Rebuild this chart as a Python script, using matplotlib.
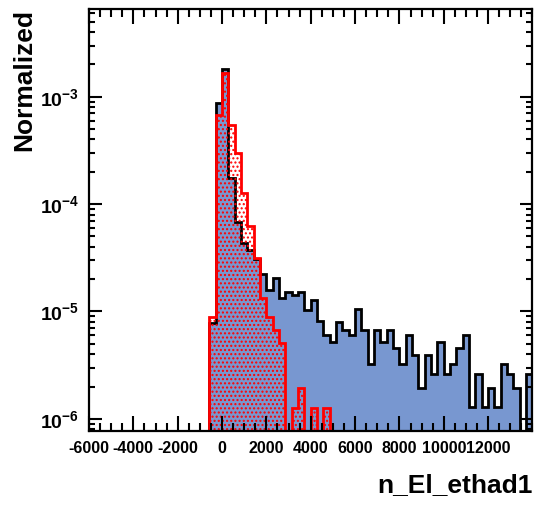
import numpy as np
import matplotlib
matplotlib.use("Agg")
import matplotlib.pyplot as plt
from matplotlib.ticker import MultipleLocator, LogLocator, FuncFormatter, NullFormatter

plt.rcParams['font.family'] = ['Liberation Sans', 'DejaVu Sans']
plt.rcParams['font.weight'] = 'bold'
plt.rcParams['axes.unicode_minus'] = False
plt.rcParams['mathtext.fontset'] = 'custom'
plt.rcParams['mathtext.bf'] = 'Liberation Sans:bold'
plt.rcParams['mathtext.rm'] = 'Liberation Sans:bold'

# histogram binning: 70 bins from -6000 to 14000
x_lo, x_hi, n_bins = -6000, 14000, 70

# blue histogram (filled), per bin
blue_vals = [
    0, 0, 0, 0, 0, 0, 0, 0, 0, 0,
    0, 0, 0, 0, 0, 0, 0, 0, 0, 7.8e-6,
    8.8e-4, 1.81e-3, 1.74e-4, 6.8e-5, 4.35e-5, 3.74e-5, 3.08e-5, 2.23e-5, 1.57e-5, 2.04e-5,
    1.34e-5, 1.53e-5, 1.43e-5, 1.53e-5, 1.03e-5, 1.28e-5, 8.2e-6, 6.0e-6, 5.2e-6, 8.0e-6,
    6.7e-6, 6.0e-6, 1.05e-5, 6.7e-6, 3.25e-6, 6.7e-6, 5.2e-6, 6.7e-6, 4.6e-6, 3.25e-6,
    6.0e-6, 3.9e-6, 1.94e-6, 3.9e-6, 2.6e-6, 5.2e-6, 2.6e-6, 3.25e-6, 4.6e-6, 6.0e-6,
    1.3e-6, 2.6e-6, 1.3e-6, 1.94e-6, 1.3e-6, 3.25e-6, 2.6e-6, 1.94e-6, 0, 2.6e-6,
]

# red histogram (hatched), per bin
red_vals = [
    0, 0, 0, 0, 0, 0, 0, 0, 0, 0,
    0, 0, 0, 0, 0, 0, 0, 0, 0, 8.95e-6,
    6.75e-4, 1.67e-3, 5.45e-4, 2.97e-4, 1.26e-4, 6.2e-5, 3.15e-5, 1.33e-5, 8.95e-6, 6.7e-6,
    5.1e-6, 0, 1.26e-6, 1.93e-6, 0, 1.26e-6, 0, 1.26e-6, 0, 0,
    0, 0, 0, 0, 0, 0, 0, 0, 0, 0,
    0, 0, 0, 0, 0, 0, 0, 0, 0, 0,
    0, 0, 0, 0, 0, 0, 0, 0, 0, 0,
]

edges = np.linspace(x_lo, x_hi, n_bins + 1)
floor = 1e-9  # stands in for empty bins on the log axis

fig = plt.figure(figsize=(5.4, 5.05), dpi=100)
ax = fig.add_axes([0.1648, 0.1465, 0.8213, 0.8347])

blue = np.where(np.array(blue_vals) > 0, blue_vals, floor)
red = np.where(np.array(red_vals) > 0, red_vals, floor)

ax.stairs(blue, edges, baseline=floor, fill=True, facecolor='#7897d0',
          edgecolor='black', linewidth=2.0)
ax.stairs(red, edges, baseline=floor, fill=True, facecolor='none',
          edgecolor='red', hatch='....', linewidth=2.0)

ax.set_yscale('log')
ax.set_xlim(x_lo, x_hi)
ax.set_ylim(7.7e-7, 6.5e-3)

ax.set_xticks(np.arange(-6000, 13000, 2000))
ax.xaxis.set_minor_locator(MultipleLocator(500))
ax.yaxis.set_major_locator(LogLocator(base=10))
ax.yaxis.set_minor_locator(LogLocator(base=10, subs=np.arange(2, 10)))
ax.yaxis.set_major_formatter(FuncFormatter(lambda v, p: r'$\mathbf{10^{%d}}$' % round(np.log10(v))))
ax.yaxis.set_minor_formatter(NullFormatter())

ax.tick_params(which='both', direction='in', top=True, right=True, width=1.5)
ax.tick_params(axis='x', which='major', length=11, labelsize=11.5, pad=7)
ax.tick_params(axis='x', which='minor', length=5.5)
ax.tick_params(axis='y', which='major', length=9, labelsize=14, pad=7)
ax.tick_params(axis='y', which='minor', length=4.5)
for lab in ax.get_xticklabels() + ax.get_yticklabels():
    lab.set_fontweight('bold')
for s in ax.spines.values():
    s.set_linewidth(1.6)

ax.set_ylabel('Normalized', loc='top', fontsize=19, fontweight='bold')
ax.yaxis.set_label_coords(-0.118, 1.0)
ax.set_xlabel('n_El_ethad1', loc='right', fontsize=19, fontweight='bold')
ax.xaxis.set_label_coords(1.0, -0.1)

fig.savefig('out.png', dpi=100)
